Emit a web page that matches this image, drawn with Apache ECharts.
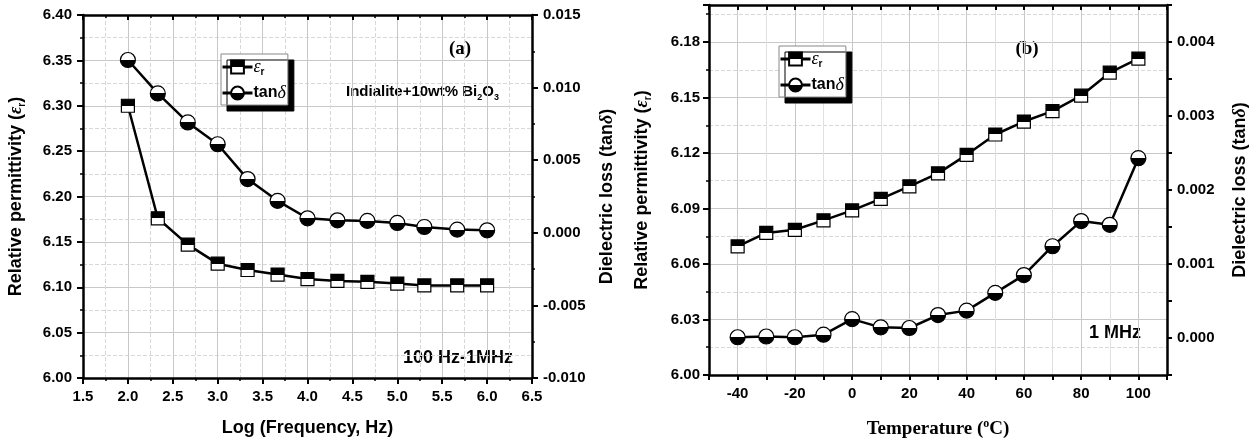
<!DOCTYPE html>
<html>
<head>
<meta charset="utf-8">
<script src="https://cdn.jsdelivr.net/npm/echarts@6/dist/echarts.min.js"></script>
<style>
  html, body { margin: 0; padding: 0; background: #fff; }
  #main { width: 1257px; height: 447px; }
</style>
</head>
<body>
<div id="main"></div>
<script>
// (a) frequency sweep, 100 Hz - 1 MHz
var logFreq = [2.0, 2.333, 2.667, 3.0, 3.333, 3.667, 4.0, 4.333, 4.667, 5.0, 5.301, 5.667, 6.0];
var epsFreq = [6.300, 6.176, 6.147, 6.126, 6.119, 6.114, 6.109, 6.107, 6.106, 6.104, 6.102, 6.102, 6.102];
var tanFreq = [0.0119, 0.0096, 0.0076, 0.0061, 0.0037, 0.0022, 0.0010, 0.00086, 0.00082, 0.00068, 0.00040, 0.00022, 0.00017];

// (b) temperature sweep at 1 MHz
var temps = [-40, -30, -20, -10, 0, 10, 20, 30, 40, 50, 60, 70, 80, 90, 100];
var epsTemp = [6.0695, 6.0768, 6.0785, 6.0836, 6.089, 6.0952, 6.102, 6.109, 6.119, 6.130, 6.137, 6.1426, 6.151, 6.1634, 6.171];
var tanTemp = [0.00001, 0.00002, 0.00001, 0.000045, 0.000255, 0.000144, 0.000135, 0.00031, 0.00037, 0.00061, 0.00085, 0.00124, 0.00158, 0.00153, 0.00243];

var FONT = '"Liberation Sans", Arial, sans-serif';
var SERIF = '"Liberation Serif", "Times New Roman", serif';

function pairs(xs, ys) {
  return xs.map(function (x, i) { return [x, ys[i]]; });
}

// marker split in two halves, like the Origin half-filled symbols
function half(top, bottom) {
  return new echarts.graphic.LinearGradient(0, 0, 0, 1, [
    { offset: 0, color: top }, { offset: 0.5, color: top },
    { offset: 0.5, color: bottom }, { offset: 1, color: bottom }
  ]);
}

var axisLine = { show: true, onZero: false, lineStyle: { color: '#000', width: 2.5 } };
var tick = { show: true, length: 6, lineStyle: { color: '#000', width: 2 } };
var minorTick = { show: true, splitNumber: 2, length: 3, lineStyle: { color: '#000', width: 1.5 } };
var split = { show: true, lineStyle: { color: '#c8c8c8', width: 1 } };
var minorSplit = { show: true, lineStyle: { color: '#d8d8d8', width: 1, type: 'dashed' } };
var label = { color: '#000', fontWeight: 'bold', fontSize: 15, fontFamily: FONT, margin: 11 };
var nameStyle = {
  color: '#000', fontWeight: 'bold', fontSize: 18, fontFamily: FONT,
  rich: {
    n: { fontWeight: 'bold', fontSize: 18, fontFamily: FONT, lineHeight: 22 },
    e: { fontStyle: 'italic', fontSize: 18, fontFamily: SERIF, lineHeight: 22 },
    s: { fontWeight: 'bold', fontSize: 10, fontFamily: FONT, verticalAlign: 'bottom' },
    d: { fontStyle: 'italic', fontSize: 18, fontFamily: SERIF, lineHeight: 22 }
  }
};

function isStep(v, step) {
  var r = v / step;
  return Math.abs(r - Math.round(r)) < 1e-6;
}

function frameAxis(min, max, interval, gridIndex) {
  return {
    type: 'value', gridIndex: gridIndex, position: 'top', min: min, max: max, interval: interval,
    axisLine: axisLine,
    axisTick: { show: true, inside: true, length: 5, lineStyle: { color: '#000', width: 2 } },
    minorTick: { show: true, splitNumber: 2, length: 3, lineStyle: { color: '#000', width: 1.5 } },
    axisLabel: { show: false }, splitLine: { show: false }
  };
}

var legendRich = {
  e: { fontStyle: 'italic', fontSize: 18, fontFamily: SERIF },
  s: { fontWeight: 'bold', fontSize: 10, fontFamily: FONT, verticalAlign: 'bottom', lineHeight: 20 },
  n: { fontWeight: 'bold', fontSize: 16, fontFamily: FONT },
  d: { fontStyle: 'italic', fontSize: 18, fontFamily: SERIF }
};
function legendBox(left, top) {
  return {
    left: left, top: top, orient: 'vertical',
    data: ['εr', 'tanδ'],
    padding: [4, 2, 3, 0], itemGap: 7, itemWidth: 30, itemHeight: 16,
    backgroundColor: '#fff', borderColor: '#888', borderWidth: 1,
    shadowColor: '#000', shadowOffsetX: 6, shadowOffsetY: 6, shadowBlur: 0,
    lineStyle: { color: '#000', width: 3 },
    textStyle: { color: '#000', padding: [0, 0, 0, -4], rich: legendRich },
    formatter: function (name) {
      return name === 'εr' ? '{e|ε}{s|r}' : '{n|tan}{d|δ}';
    }
  };
}

var epsStyle = {
  symbol: 'rect', symbolSize: 13,
  itemStyle: { color: half('#000', '#fff'), borderColor: '#000', borderWidth: 1.2 },
  lineStyle: { color: '#000', width: 2.5 }
};
var tanStyle = {
  symbol: 'circle', symbolSize: 15,
  itemStyle: { color: half('#fff', '#000'), borderColor: '#000', borderWidth: 1.2 },
  lineStyle: { color: '#000', width: 2.5 }
};

var chart = echarts.init(document.getElementById('main'), null, { renderer: 'canvas' });

var option = {
  animation: false,
  backgroundColor: '#fff',
  grid: [
    { left: 83, top: 15, width: 449, height: 363, containLabel: false },
    { left: 709, top: 5, width: 458, height: 370, containLabel: false }
  ],
  legend: [legendBox(221, 54), legendBox(779, 46)],
  xAxis: [
    {
      type: 'value', gridIndex: 0, position: 'bottom', min: 1.5, max: 6.5, interval: 0.5,
      name: 'Log (Frequency, Hz)', nameLocation: 'middle', nameGap: 41,
      nameTextStyle: { color: '#000', fontWeight: 'bold', fontSize: 18, fontFamily: FONT },
      axisLine: axisLine, axisTick: tick, minorTick: minorTick,
      splitLine: split, minorSplitLine: minorSplit,
      axisLabel: Object.assign({}, label, { formatter: function (v) { return v.toFixed(1); } })
    },
    frameAxis(1.5, 6.5, 0.5, 0),
    {
      type: 'value', gridIndex: 1, position: 'bottom', min: -50, max: 110, interval: 10,
      name: '{n|Temperature (}{o|o}{n|C)}', nameLocation: 'middle', nameGap: 43,
      nameTextStyle: {
        color: '#000',
        rich: {
          n: { fontWeight: 'bold', fontSize: 19, fontFamily: SERIF, lineHeight: 22 },
          o: { fontWeight: 'bold', fontSize: 12, fontFamily: SERIF, verticalAlign: 'top' }
        }
      },
      axisLine: axisLine,
      axisTick: { show: true, length: 5, lineStyle: { color: '#000', width: 2 } },
      splitLine: { show: true, lineStyle: { color: ['#e0e0e0', '#c8c8c8'], width: 1 } },
      axisLabel: Object.assign({}, label, {
        formatter: function (v) { return (isStep(v, 20) && v >= -40 && v <= 100) ? String(v) : ''; }
      })
    },
    {
      type: 'value', gridIndex: 1, position: 'top', min: -50, max: 110, interval: 10,
      axisLine: axisLine,
      axisTick: { show: true, inside: true, length: 5, lineStyle: { color: '#000', width: 2 } },
      axisLabel: { show: false }, splitLine: { show: false }
    }
  ],
  yAxis: [
    {
      type: 'value', gridIndex: 0, position: 'left', min: 6.0, max: 6.4, interval: 0.05,
      name: '{n|Relative permittivity (}{e|ε}{s|r}{n|)}', nameLocation: 'middle', nameGap: 56, nameRotate: 90,
      nameTextStyle: nameStyle,
      axisLine: axisLine, axisTick: tick, minorTick: minorTick,
      splitLine: split, minorSplitLine: minorSplit,
      axisLabel: Object.assign({}, label, { formatter: function (v) { return v.toFixed(2); } })
    },
    {
      type: 'value', gridIndex: 0, position: 'right', min: -0.010, max: 0.015, interval: 0.005,
      name: '{n|Dielectric loss (tan}{d|δ}{n|)}', nameLocation: 'middle', nameGap: 64, nameRotate: 90,
      nameTextStyle: nameStyle,
      axisLine: axisLine, axisTick: tick, minorTick: minorTick,
      splitLine: { show: false },
      axisLabel: Object.assign({}, label, { formatter: function (v) { return v.toFixed(3); } })
    },
    {
      type: 'value', gridIndex: 1, position: 'left', min: 6.0, max: 6.2, interval: 0.03,
      name: '{n|Relative permittivity (}{e|ε}{s|r}{n|)}', nameLocation: 'middle', nameGap: 56, nameRotate: 90,
      nameTextStyle: nameStyle,
      axisLine: axisLine, axisTick: tick, minorTick: minorTick,
      splitLine: split, minorSplitLine: minorSplit,
      axisLabel: Object.assign({}, label, {
        margin: 9, showMaxLabel: false,
        formatter: function (v) { return v > 6.185 ? '' : v.toFixed(2); }
      })
    },
    {
      type: 'value', gridIndex: 1, position: 'right', min: -0.0005, max: 0.0045, interval: 0.0005,
      name: '{n|Dielectric loss (tan}{d|δ}{n|)}', nameLocation: 'middle', nameGap: 62, nameRotate: 90,
      nameTextStyle: nameStyle,
      axisLine: axisLine,
      axisTick: { show: true, length: 5, lineStyle: { color: '#000', width: 2 } },
      splitLine: { show: false },
      axisLabel: Object.assign({}, label, {
        margin: 10,
        formatter: function (v) { return isStep(v, 0.001) ? Math.abs(v).toFixed(3) : ''; }
      })
    }
  ],
  series: [
    Object.assign({ type: 'line', name: 'εr', xAxisIndex: 0, yAxisIndex: 0, data: pairs(logFreq, epsFreq) }, epsStyle),
    Object.assign({ type: 'line', name: 'tanδ', xAxisIndex: 0, yAxisIndex: 1, data: pairs(logFreq, tanFreq) }, tanStyle),
    Object.assign({ type: 'line', name: 'εr', xAxisIndex: 2, yAxisIndex: 2, data: pairs(temps, epsTemp) }, epsStyle),
    Object.assign({ type: 'line', name: 'tanδ', xAxisIndex: 2, yAxisIndex: 3, data: pairs(temps, tanTemp) }, tanStyle)
  ],
  graphic: [
    {
      type: 'text', x: 460, y: 49,
      style: { text: '(a)', font: 'bold 19px ' + SERIF, fill: '#000', align: 'center', verticalAlign: 'middle' }
    },
    {
      type: 'text', x: 346, y: 92,
      style: {
        text: '{n|Indialite+10wt% Bi}{s|2}{n|O}{s|3}', fill: '#000', align: 'left', verticalAlign: 'middle',
        rich: {
          n: { font: 'bold 15px ' + FONT, lineHeight: 20 },
          s: { font: 'bold 9px ' + FONT, verticalAlign: 'bottom' }
        }
      }
    },
    {
      type: 'text', x: 458, y: 358,
      style: { text: '100 Hz-1MHz', font: 'bold 18px ' + FONT, fill: '#000', align: 'center', verticalAlign: 'middle' }
    },
    {
      type: 'text', x: 1027, y: 49,
      style: { text: '(b)', font: 'bold 19px ' + SERIF, fill: '#000', align: 'center', verticalAlign: 'middle' }
    },
    {
      type: 'text', x: 1115, y: 333,
      style: { text: '1 MHz', font: 'bold 18px ' + FONT, fill: '#000', align: 'center', verticalAlign: 'middle' }
    }
  ]
};

chart.setOption(option);
</script>
</body>
</html>
